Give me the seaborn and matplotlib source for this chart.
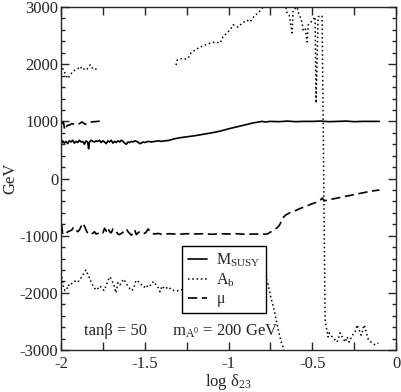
import matplotlib
matplotlib.use("Agg")
import matplotlib.pyplot as plt
from matplotlib.lines import Line2D
from matplotlib.ticker import MultipleLocator
import seaborn as sns

# M_SUSY (solid line)
msusy_x = [-2.0, -1.99, -1.98, -1.97, -1.96, -1.95, -1.94, -1.93, -1.92, -1.91,
           -1.90, -1.89, -1.88, -1.87, -1.86, -1.85, -1.84, -1.835, -1.83, -1.82,
           -1.81, -1.80, -1.79, -1.78, -1.77, -1.76, -1.75, -1.74, -1.73, -1.72,
           -1.71, -1.70, -1.69, -1.68, -1.67, -1.66, -1.65, -1.64, -1.63, -1.62,
           -1.61, -1.60, -1.59, -1.58, -1.57, -1.56, -1.55, -1.54, -1.53, -1.52,
           -1.51, -1.50, -1.48, -1.46, -1.44, -1.42, -1.40, -1.38, -1.36, -1.33,
           -1.30, -1.25, -1.20, -1.15, -1.10, -1.05, -1.00, -0.95, -0.90, -0.85,
           -0.80, -0.78, -0.75, -0.70, -0.65, -0.60, -0.55, -0.50, -0.45, -0.40,
           -0.35, -0.30, -0.25, -0.20, -0.15, -0.10]
msusy_y = [590, 660, 620, 650, 610, 660, 640, 670, 620, 650,
           630, 670, 640, 650, 600, 660, 630, 520, 640, 670,
           650, 640, 660, 650, 670, 630, 660, 640, 610, 660,
           640, 670, 620, 650, 630, 660, 640, 670, 650, 620,
           600, 640, 630, 650, 640, 660, 650, 640, 610, 620,
           640, 630, 650, 640, 650, 660, 650, 660, 665, 690,
           710, 730, 750, 775, 800, 830, 870, 905, 940, 975,
           1000, 990, 1000, 995, 1005, 995, 1000, 1000, 1005, 995,
           1000, 1005, 995, 1000, 1000, 1000]

# A_b (dotted line), three pieces
ab_left_x = [-1.99, -1.98, -1.97, -1.96, -1.95, -1.93, -1.915, -1.895, -1.885, -1.87,
             -1.855, -1.845, -1.825, -1.81, -1.795, -1.785]
ab_left_y = [1930, 1870, 1810, 1750, 1790, 1870, 1900, 1930, 1960, 1900,
             1930, 1910, 1990, 1920, 1920, 1900]

ab_top_x = [-1.313, -1.307, -1.278, -1.26, -1.242, -1.224, -1.2, -1.182, -1.17, -1.11,
            -1.081, -1.051, -1.033, -0.991, -0.973, -0.943, -0.919, -0.89, -0.872, -0.842,
            -0.824, -0.80, -0.752, -0.675, -0.651, -0.639, -0.621, -0.615, -0.591, -0.585,
            -0.573, -0.561, -0.555, -0.543, -0.531, -0.525, -0.513, -0.496, -0.484, -0.478,
            -0.466, -0.442, -0.424, -0.414, -0.406, -0.40, -0.376, -0.352, -0.334, -0.322,
            -0.304, -0.293, -0.281, -0.263, -0.245, -0.233, -0.221, -0.209, -0.191, -0.179,
            -0.167, -0.143, -0.125, -0.107]
ab_top_y = [1985, 2070, 2100, 2090, 2100, 2200, 2250, 2280, 2300, 2370,
            2390, 2370, 2480, 2600, 2690, 2650, 2720, 2770, 2740, 2860,
            2890, 2980, 3400, 3300, 2890, 2860, 2550, 2950, 3000, 2910,
            2830, 2720, 2600, 2630, 2390, 2690, 2720, 2780, 2830, 1320,
            2830, 2850, -2470, -2650, -2770, -2700, -2790, -2860, -2700, -2770,
            -2860, -2770, -2860, -2750, -2680, -2560, -2650, -2740, -2560, -2680,
            -2810, -2880, -2910, -2880]

ab_low_x = [-1.994, -1.985, -1.976, -1.966, -1.958, -1.946, -1.934, -1.922, -1.91, -1.898,
            -1.887, -1.875, -1.863, -1.851, -1.839, -1.827, -1.815, -1.803, -1.791, -1.779,
            -1.767, -1.755, -1.743, -1.731, -1.719, -1.707, -1.695, -1.684, -1.672, -1.66,
            -1.648, -1.636, -1.624, -1.612, -1.60, -1.588, -1.576, -1.564, -1.552, -1.54,
            -1.528, -1.516, -1.504, -1.492, -1.481, -1.469, -1.457, -1.445, -1.433, -1.421,
            -1.409, -1.397, -1.385, -1.373, -1.361, -1.349, -1.337, -1.325, -1.313, -1.25,
            -1.15, -1.05, -0.95, -0.85, -0.80, -0.782, -0.764, -0.746, -0.728, -0.71,
            -0.699, -0.687, -0.675, -0.665]
ab_low_y = [-1720, -1900, -1960, -1950, -1860, -1880, -1830, -1800, -1790, -1810,
            -1760, -1720, -1650, -1600, -1680, -1760, -1840, -1900, -1950, -1920,
            -1880, -1920, -1960, -1880, -1780, -1720, -1790, -1860, -2000, -1820,
            -1860, -1800, -1760, -1830, -1880, -1930, -1960, -1900, -1780, -1800,
            -1830, -1870, -1900, -1860, -1900, -1880, -1820, -1800, -1860, -1900,
            -1980, -1880, -1920, -1900, -1940, -1920, -1950, -1960, -1970, -1920,
            -1900, -1850, -1800, -1750, -1720, -1690, -1850, -2100, -2300, -2550,
            -2700, -2850, -2950, -3100]

# mu (dashed line), two pieces
mu_top_x = [-1.995, -1.985, -1.978, -1.97, -1.96, -1.946, -1.935, -1.92, -1.905, -1.89,
            -1.875, -1.865, -1.855, -1.845, -1.835, -1.82, -1.80, -1.78, -1.755]
mu_top_y = [960, 990, 850, 900, 930, 940, 960, 950, 940, 960,
            990, 970, 950, 960, 980, 990, 995, 1000, 1010]

mu_low_x = [-1.995, -1.99, -1.98, -1.97, -1.96, -1.95, -1.935, -1.925, -1.91, -1.90,
            -1.89, -1.88, -1.87, -1.86, -1.85, -1.84, -1.83, -1.82, -1.81, -1.80,
            -1.79, -1.78, -1.77, -1.76, -1.75, -1.74, -1.73, -1.72, -1.71, -1.70,
            -1.69, -1.68, -1.67, -1.66, -1.65, -1.64, -1.63, -1.62, -1.61, -1.60,
            -1.59, -1.58, -1.57, -1.56, -1.55, -1.54, -1.53, -1.52, -1.51, -1.50,
            -1.49, -1.48, -1.47, -1.46, -1.44, -1.42, -1.40, -1.35, -1.30, -1.25,
            -1.20, -1.15, -1.10, -1.05, -1.00, -0.95, -0.90, -0.85, -0.80, -0.77,
            -0.74, -0.71, -0.70, -0.69, -0.68, -0.66, -0.63, -0.60, -0.57, -0.54,
            -0.51, -0.48, -0.45, -0.44, -0.43, -0.40, -0.35, -0.30, -0.25, -0.20,
            -0.15, -0.10]
mu_low_y = [-810, -970, -975, -970, -930, -920, -900, -850, -900, -930,
            -900, -840, -780, -830, -900, -960, -970, -950, -960, -930,
            -970, -960, -950, -930, -950, -870, -920, -860, -930, -950,
            -880, -900, -930, -970, -980, -960, -940, -900, -880, -930,
            -960, -990, -960, -900, -980, -950, -930, -920, -940, -960,
            -930, -880, -920, -960, -970, -960, -975, -965, -975, -965,
            -970, -965, -975, -965, -970, -965, -975, -970, -975, -970,
            -920, -860, -830, -780, -700, -640, -590, -560, -520, -490,
            -450, -420, -370, -340, -390, -370, -340, -310, -280, -250,
            -220, -200]

x_ticks = [-2, -1.5, -1, -0.5, 0]
x_labels = ['-2', '-1.5', '-1', '-0.5', '0']
y_ticks = [-3000, -2000, -1000, 0, 1000, 2000, 3000]
y_labels = ['-3000', '-2000', '-1000', '0', '1000', '2000', '3000']

sns.set_style("ticks")
plt.rcParams['font.family'] = ['Liberation Serif', 'DejaVu Serif']
plt.rcParams['mathtext.fontset'] = 'custom'
plt.rcParams['mathtext.rm'] = 'Liberation Serif'
plt.rcParams['mathtext.it'] = 'Liberation Serif:italic'
plt.rcParams['axes.unicode_minus'] = False

solid = '-'
dotted = (0, (1, 1.8))
dashed = (0, (5.5, 2.8))

fig = plt.figure(figsize=(4.01, 3.92), dpi=100)
ax = fig.add_axes([0.152, 0.107, 0.836, 0.875])

def draw(xs, ys, ls, lw):
    sns.lineplot(x=xs, y=ys, sort=False, estimator=None, color='black',
                 linestyle=ls, linewidth=lw, ax=ax)

draw(msusy_x, msusy_y, solid, 1.2)
draw(ab_left_x, ab_left_y, dotted, 1.1)
draw(ab_top_x, ab_top_y, dotted, 1.1)
draw(ab_low_x, ab_low_y, dotted, 1.1)
draw(mu_top_x, mu_top_y, dashed, 1.2)
draw(mu_low_x, mu_low_y, dashed, 1.2)

ax.set_xlim(-2, 0)
ax.set_ylim(-3000, 3000)
ax.set_xticks(x_ticks)
ax.set_xticklabels(x_labels)
ax.set_yticks(y_ticks)
ax.set_yticklabels(y_labels)
ax.xaxis.set_minor_locator(MultipleLocator(0.25))
ax.yaxis.set_minor_locator(MultipleLocator(200))
ax.tick_params(which='both', direction='in', top=True, right=True, labelsize=12, width=1.0)
ax.tick_params(axis='y', which='major', length=6, pad=2)
ax.tick_params(axis='y', which='minor', length=3)
ax.tick_params(axis='x', which='both', length=6)
ax.tick_params(axis='x', which='major', pad=4)
for s in ax.spines.values():
    s.set_linewidth(1.0)

ax.set_xlabel(r'log δ$_{23}$', fontsize=12, labelpad=0)
ax.set_ylabel('GeV', fontsize=12, labelpad=1)

ax.text(-1.86, -2740, 'tanβ = 50', fontsize=12, va='baseline')
ax.text(-1.337, -2740, r'm$_{\mathrm{A}^{0}}$ = 200 GeV', fontsize=12, va='baseline')

handles = [Line2D([], [], color='black', linestyle=solid, linewidth=1.2),
           Line2D([], [], color='black', linestyle=dotted, linewidth=1.1),
           Line2D([], [], color='black', linestyle=dashed, linewidth=1.2)]
labels = [r'M$_{\mathrm{SUSY}}$', r'A$_{\mathrm{b}}$', 'μ']
leg = ax.legend(handles, labels, loc='lower left', bbox_to_anchor=(0.361, 0.108),
                borderaxespad=0, fontsize=11.5, frameon=True, fancybox=False,
                framealpha=1, edgecolor='black', handlelength=1.2,
                handletextpad=0.6, labelspacing=0.15, borderpad=0.35)
leg.get_frame().set_linewidth(1.0)
leg.set_zorder(5)

fig.savefig('out.png', dpi=100)
